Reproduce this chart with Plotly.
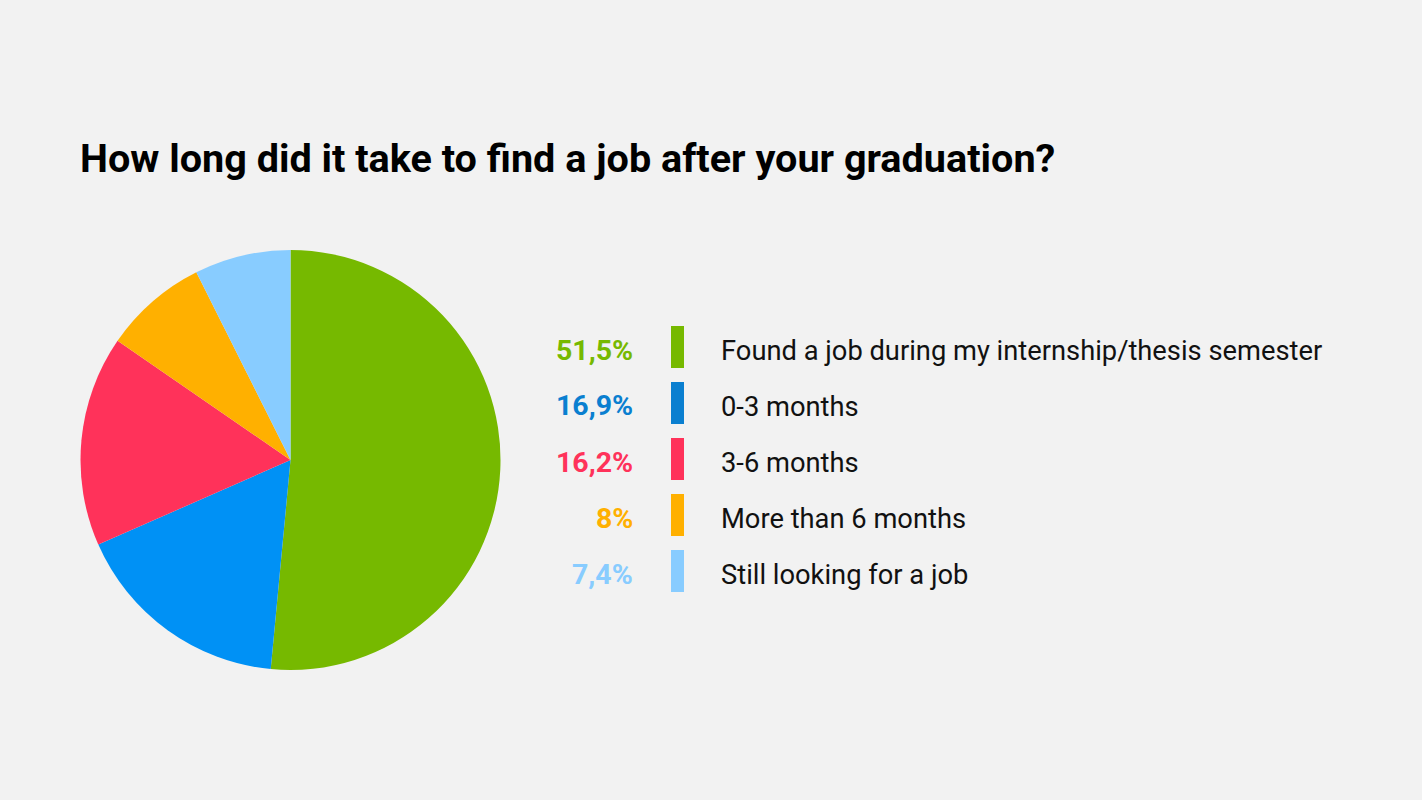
import plotly.graph_objects as go

categories = ["Found a job during my internship/thesis semester", "0-3 months", "3-6 months",
              "More than 6 months", "Still looking for a job"]
values = [51.5, 16.9, 16.2, 8, 7.4]
pct_labels = ["51,5%", "16,9%", "16,2%", "8%", "7,4%"]
pie_colors = ["#76b900", "#0091f5", "#ff325a", "#ffb000", "#88ccff"]
legend_colors = ["#76b900", "#0a7fd0", "#ff325a", "#ffb000", "#88ccff"]
title = "How long did it take to find a job after your graduation?"

W, H = 1422, 800
BG = "#f2f2f2"

fig = go.Figure(go.Pie(
    labels=categories, values=values, sort=False, direction="clockwise", rotation=0,
    marker=dict(colors=pie_colors, line=dict(width=0)),
    textinfo="none", hoverinfo="label+percent", showlegend=False,
    domain=dict(x=[80 / W, 501 / W], y=[(H - 670) / H, (H - 250) / H]),
))

annotations = [dict(text=title, x=78 / W, y=1 - 158 / H, xref="paper", yref="paper",
                    xanchor="left", yanchor="middle", showarrow=False,
                    font=dict(family="Roboto", size=39.6, color="#000000", weight="bold"))]
shapes = []
y0, dy = 347, 56
for i, (c, p) in enumerate(zip(categories, pct_labels)):
    yc = y0 + i * dy
    annotations.append(dict(text=p, x=635 / W, y=1 - (yc + 3) / H, xref="paper", yref="paper",
                            xanchor="right", yanchor="middle", showarrow=False,
                            font=dict(family="Roboto", size=28.5, color=legend_colors[i], weight="bold")))
    annotations.append(dict(text=c, x=719 / W, y=1 - (yc + 4) / H, xref="paper", yref="paper",
                            xanchor="left", yanchor="middle", showarrow=False,
                            font=dict(family="Roboto", size=27.3, color="#111111")))
    shapes.append(dict(type="rect", xref="paper", yref="paper", x0=671 / W, x1=684 / W,
                       y0=1 - (yc + 21) / H, y1=1 - (yc - 21) / H,
                       fillcolor=legend_colors[i], line=dict(width=0)))

fig.update_layout(width=W, height=H, paper_bgcolor=BG, plot_bgcolor=BG,
                  margin=dict(l=0, r=0, t=0, b=0), annotations=annotations, shapes=shapes)
fig.write_html("out.html", config={"displayModeBar": False},
               post_script="document.body.style.margin='0';document.body.style.background='%s';" % BG)
